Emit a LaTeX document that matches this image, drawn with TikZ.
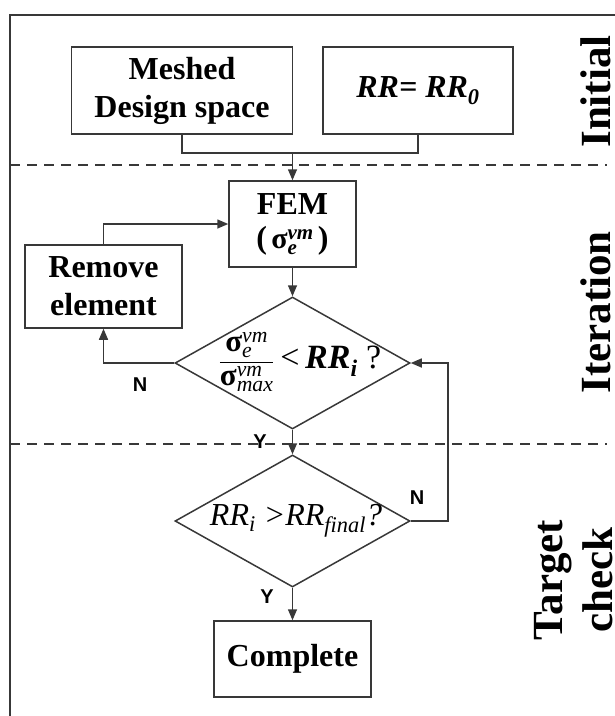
\documentclass[tikz,border=0pt]{standalone}
\usepackage{amsmath}
\usepackage{fontspec}
\setmainfont{Liberation Serif}
\newfontfamily\labfont{Liberation Sans}
\usetikzlibrary{shapes.geometric,arrows.meta}
\begin{document}
\begin{tikzpicture}[x=1pt,y=-1pt,
  ln/.style={line width=1.5pt,draw=black!78},
  arr/.style={ln,-{Triangle[length=11pt,width=9pt]}},
  box/.style={ln,rectangle,inner sep=0pt,align=center,font=\fontsize{32}{38}\selectfont\bfseries},
  dia/.style={ln,diamond,inner sep=0pt,minimum width=235pt,minimum height=132pt},
  dashline/.style={line width=1.5pt,draw=black!78,dash pattern=on 10pt off 7pt},
  yn/.style={font=\labfont\fontsize{20}{20}\selectfont\bfseries,inner sep=0pt},
  side/.style={rotate=90,anchor=base,inner sep=0pt,font=\fontsize{43}{50}\selectfont\bfseries}]
\useasboundingbox (0,0) rectangle (615,716);
% frame
\draw[ln] (615,15) -- (10,15) -- (10,716);
\draw[dashline] (10,165) -- (607,165);
\draw[dashline] (10,444) -- (607,444);
% side labels
\node[side] (lini) at (610,91.5) {Initial};
\node[side] (lite) at (610,312.5) {Iteration};
\node[side] (ltar) at (562,580) {Target};
\node[side] (lchk) at (612,580) {check};
% nodes
\node[box,minimum width=221pt,minimum height=87pt] (mesh) at (182,90.5) {Meshed\\Design space};
\node[box,minimum width=190pt,minimum height=87pt] (rr0) at (418,90.5) {\itshape RR= RR\textsubscript{0}};
\node[box,minimum width=127pt,minimum height=86pt] (fem) at (292.5,224) {FEM\\[-4pt]({\fontsize{30}{30}\selectfont$\,\text{\bfseries σ}^{\text{\itshape vm}}_{\text{\itshape e}}\,$})};
\node[box,minimum width=157pt,minimum height=83pt] (remove) at (103.5,286.5) {Remove\\element};
\node[dia] (d1) at (292.5,363) {};
\node[inner sep=0pt] (t1) at (300,362) {{\fontsize{31}{34}\selectfont$\dfrac{\text{\bfseries σ}^{\text{\itshape vm}}_{\text{\itshape e}}}{\text{\bfseries σ}^{\text{\itshape vm}}_{\text{\itshape max}}}$}{\fontsize{34}{36}\selectfont\,<\,\textbf{\textit{RR\textsubscript{i}}} ?}};
\node[dia] (d2) at (292.5,521) {};
\node[inner sep=0pt] (t2) at (296,521) {\fontsize{32}{36}\selectfont\itshape RR\textsubscript{i} >RR\textsubscript{final}?};
\node[box,minimum width=157pt,minimum height=76pt] (complete) at (292.5,659) {Complete};
% Y/N labels
\node[yn] (n1) at (140,385) {N};
\node[yn] (y1) at (260,442) {Y};
\node[yn] (n2) at (417,498) {N};
\node[yn] (y2) at (267,597) {Y};
% connectors
\coordinate (j) at (292.5,153);
\coordinate (loop) at (448,442);
\draw[ln] (mesh.south) |- (j) -| (rr0.south);
\draw[arr] (j) -- (fem.north);
\draw[arr] (remove.north) |- (fem.west);
\draw[arr] (fem.south) -- (d1.north);
\draw[arr] (d1.west) -| (remove.south);
\draw[arr] (d1.south) -- (d2.north);
\draw[arr] (d2.east) -| (loop) |- (d1.east);
\draw[arr] (d2.south) -- (complete.north);
\end{tikzpicture}
\end{document}
